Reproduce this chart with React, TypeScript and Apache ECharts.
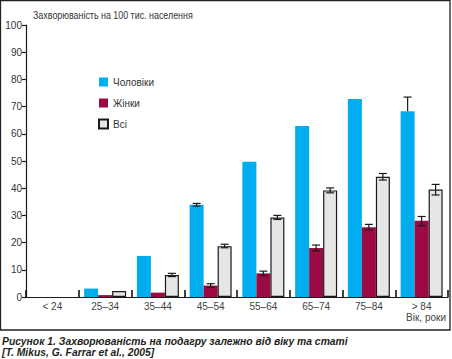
import React, { useEffect, useRef } from "react";
import * as echarts from "echarts";

const categories = ["< 24", "25–34", "35–44", "45–54", "55–64", "65–74", "75–84", "> 84"];
const menValues = [0, 3.1, 15.1, 33.9, 49.7, 62.9, 72.8, 68.3];
const womenValues = [0, 0.7, 1.6, 4.2, 8.7, 18.0, 25.6, 28.0];
const allValues = [0, 2.2, 8.1, 18.7, 29.2, 39.2, 44.2, 39.5];
// error bars: [low, high] or null
const menErrors: ([number, number] | null)[] = [null, null, null, [33.4, 34.4], null, null, null, [68.3, 73.5]];
const womenErrors: ([number, number] | null)[] = [null, null, null, [3.5, 4.9], [7.9, 9.5], [17.0, 19.1], [24.6, 26.7], [26.2, 29.6]];
const allErrors: ([number, number] | null)[] = [null, null, [7.5, 8.7], [18.1, 19.4], [28.5, 30.0], [38.3, 40.1], [43.0, 45.4], [37.5, 41.4]];
const seriesNames = ["Чоловіки", "Жінки", "Всі"];
const yTitle = "Захворюваність на 100 тис. населення";
const xTitle = "Вік, роки";
const captionLine1 = "Рисунок 1. Захворюваність на подагру залежно від віку та статі";
const captionLine2 = "[T. Mikus, G. Farrar et al., 2005]";

const FONT = "'Liberation Sans', Arial, sans-serif";
const BAR_W = 14;

const hideZero = (arr: number[]) => arr.map((v) => (v === 0 ? "-" : v));

function errorData(errs: ([number, number] | null)[]) {
  const out: any[] = [];
  errs.forEach((e, i) => {
    if (e) out.push([i, e[0], e[1]]);
  });
  return out;
}

function errorSeries(errs: ([number, number] | null)[], offsetIdx: number) {
  return {
    type: "custom",
    z: 10,
    silent: true,
    data: errorData(errs),
    encode: { x: 0, y: [1, 2] },
    renderItem: (params: any, api: any) => {
      const cat = api.value(0);
      const lo = api.coord([cat, api.value(1)]);
      const hi = api.coord([cat, api.value(2)]);
      const x = lo[0] + offsetIdx * BAR_W;
      const hw = 4;
      const style = { stroke: "#1a1a1a", lineWidth: 1.2 };
      return {
        type: "group",
        children: [
          { type: "line", shape: { x1: x, y1: lo[1], x2: x, y2: hi[1] }, style },
          { type: "line", shape: { x1: x - hw, y1: hi[1], x2: x + hw, y2: hi[1] }, style },
          ...(offsetIdx === -1 && cat === 7
            ? []
            : [{ type: "line", shape: { x1: x - hw, y1: lo[1], x2: x + hw, y2: lo[1] }, style }]),
        ],
      };
    },
  };
}

export default function App() {
  const ref = useRef<HTMLDivElement>(null);
  useEffect(() => {
    if (!ref.current) return;
    const chart = echarts.init(ref.current, undefined, { renderer: "svg" });
    chart.setOption({
      animation: false,
      textStyle: { fontFamily: FONT },
      grid: { left: 26, right: 4, top: 25, bottom: 62, containLabel: false },
      legend: {
        data: seriesNames,
        orient: "vertical",
        left: 98,
        top: 76,
        padding: 0,
        itemWidth: 9,
        itemHeight: 9,
        itemGap: 9,
        icon: "rect",
        textStyle: { fontSize: 10, color: "#333", fontFamily: FONT, lineHeight: 12 },
      },
      xAxis: {
        type: "category",
        data: categories,
        axisLine: { show: true, lineStyle: { color: "#1a1a1a", width: 1.2 } },
        axisTick: {
          show: true,
          inside: true,
          length: 7,
          interval: 0,
          lineStyle: { color: "#111", width: 1.6 },
        },
        axisLabel: { fontSize: 10, color: "#444", margin: 4, fontFamily: FONT, interval: 0 },
      },
      yAxis: {
        type: "value",
        min: 0,
        max: 100,
        interval: 10,
        axisLine: { show: true, lineStyle: { color: "#1a1a1a", width: 1.2 } },
        axisTick: { show: true, length: 4, lineStyle: { color: "#1a1a1a", width: 1.2 } },
        axisLabel: { fontSize: 10, color: "#333", margin: 4, fontFamily: FONT },
        splitLine: { show: false },
      },
      series: [
        {
          name: seriesNames[0],
          type: "bar",
          data: hideZero(menValues),
          barWidth: BAR_W,
          barGap: "0%",
          itemStyle: { color: "#00aeef" },
        },
        {
          name: seriesNames[1],
          type: "bar",
          data: hideZero(womenValues),
          barWidth: BAR_W,
          barGap: "0%",
          itemStyle: { color: "#9c0a45" },
        },
        {
          name: seriesNames[2],
          type: "bar",
          data: hideZero(allValues),
          barWidth: BAR_W,
          barGap: "0%",
          itemStyle: { color: "#e6e6e6", borderColor: "#1a1a1a", borderWidth: 1.2 },
        },
        errorSeries(menErrors, -1),
        errorSeries(womenErrors, 0),
        errorSeries(allErrors, 1),
      ],
      graphic: [
        {
          type: "rect",
          silent: true,
          shape: { x: 0.5, y: 0.5, width: 449.5, height: 329.5 },
          style: { fill: "none", stroke: "#222", lineWidth: 1.3 },
        },
        {
          type: "text",
          x: 33,
          y: 10,
          scaleX: 0.89,
          style: { text: yTitle, fontSize: 10, fill: "#333", fontFamily: FONT },
        },
        {
          type: "text",
          right: 6,
          top: 312,
          style: { text: xTitle, fontSize: 10, fill: "#444", fontFamily: FONT },
        },
        {
          type: "text",
          x: 2,
          y: 335,
          scaleX: 0.9,
          style: {
            text: captionLine1,
            fontSize: 11.5,
            fontWeight: "bold",
            fontStyle: "italic",
            fill: "#231f20",
            fontFamily: FONT,
          },
        },
        {
          type: "text",
          x: 2,
          y: 346,
          scaleX: 0.9,
          style: {
            text: captionLine2,
            fontSize: 11.5,
            fontWeight: "bold",
            fontStyle: "italic",
            fill: "#231f20",
            fontFamily: FONT,
          },
        },
      ],
    });
    return () => chart.dispose();
  }, []);
  return (
    <div
      ref={ref}
      style={{ position: "fixed", left: 0, top: 0, width: 452, height: 359, background: "#fff" }}
    />
  );
}
